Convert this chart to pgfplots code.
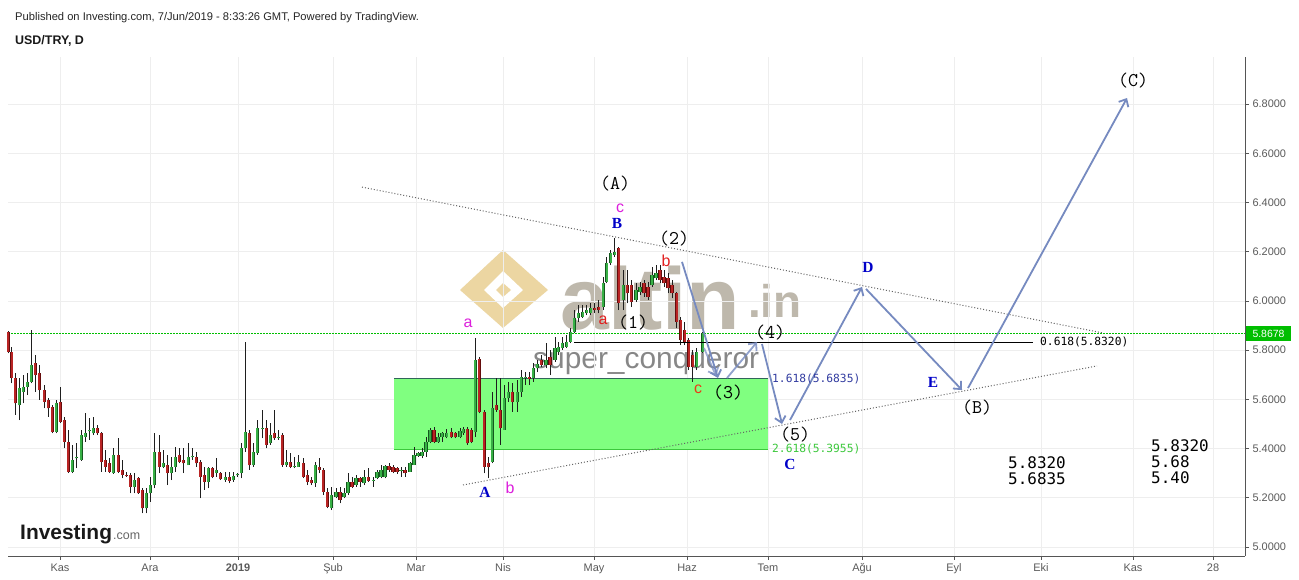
\documentclass[border=0pt]{standalone}
\usepackage{pgfplots}
\pgfplotsset{compat=1.18}
\usepackage{pgfplotstable}
\usepackage{fontspec}
\setmainfont{Liberation Sans}
\newfontfamily\sansmono{DejaVu Sans Mono}
\newfontfamily\timesf{Liberation Serif}
\usetikzlibrary{arrows.meta}

\definecolor{upc}{RGB}{56,176,70}
\definecolor{upedge}{RGB}{20,90,30}
\definecolor{dnc}{RGB}{185,36,36}
\definecolor{dnedge}{RGB}{100,12,12}
\definecolor{wick}{RGB}{30,30,30}
\definecolor{gridc}{RGB}{238,238,238}
\definecolor{axisc}{RGB}{85,85,85}
\definecolor{tickc}{RGB}{90,90,90}
\definecolor{arrowc}{RGB}{118,138,192}
\definecolor{zoneg}{RGB}{128,255,128}
\definecolor{zonetop}{RGB}{50,100,90}
\definecolor{wavebl}{RGB}{0,0,200}
\definecolor{wavemg}{RGB}{220,30,220}
\definecolor{wavered}{RGB}{225,30,30}
\definecolor{fibblue}{RGB}{50,60,160}
\definecolor{fibgreen}{RGB}{60,200,60}
\definecolor{pricegreen}{RGB}{0,190,0}
\definecolor{wmgray}{RGB}{190,184,172}
\definecolor{wmgold}{RGB}{236,214,162}
\definecolor{trend}{RGB}{100,100,100}

% daily candles, USD/TRY (x = chart position, o h l c)
\pgfplotstableread{
x o h l c
19.3 5.577 5.686 5.516 5.645
23.3 5.631 5.699 5.584 5.652
27.3 5.652 5.706 5.618 5.672
31.3 5.672 5.882 5.665 5.740
56.3 5.469 5.598 5.462 5.584
72.3 5.306 5.415 5.300 5.354
76.3 5.360 5.421 5.320 5.367
81.3 5.354 5.476 5.350 5.455
85.3 5.449 5.543 5.428 5.462
89.3 5.470 5.523 5.435 5.474
93.3 5.462 5.530 5.455 5.482
113.3 5.300 5.401 5.298 5.374
134.3 5.245 5.300 5.218 5.272
146.3 5.157 5.238 5.137 5.218
150.3 5.218 5.286 5.184 5.252
154.3 5.252 5.462 5.238 5.388
163.3 5.327 5.394 5.320 5.340
171.3 5.300 5.367 5.272 5.327
175.3 5.327 5.408 5.306 5.367
188.3 5.333 5.421 5.333 5.367
192.3 5.365 5.401 5.354 5.369
208.3 5.266 5.327 5.238 5.320
216.3 5.300 5.360 5.286 5.313
225.3 5.272 5.306 5.266 5.286
233.3 5.272 5.306 5.266 5.289
237.3 5.291 5.300 5.286 5.297
241.3 5.300 5.421 5.279 5.401
245.3 5.401 5.835 5.388 5.469
253.3 5.333 5.421 5.327 5.388
257.3 5.381 5.516 5.374 5.482
262.3 5.480 5.557 5.442 5.484
270.3 5.421 5.503 5.415 5.455
278.3 5.444 5.476 5.435 5.448
286.3 5.333 5.394 5.327 5.347
294.3 5.325 5.367 5.320 5.329
298.3 5.327 5.374 5.327 5.347
315.3 5.259 5.347 5.245 5.333
331.3 5.157 5.245 5.150 5.211
336.0 5.205 5.238 5.198 5.225
344.0 5.205 5.238 5.198 5.221
348.0 5.218 5.299 5.211 5.266
356.0 5.252 5.293 5.245 5.279
364.0 5.259 5.313 5.252 5.286
373.3 5.270 5.286 5.245 5.274
377.0 5.279 5.313 5.275 5.306
381.0 5.286 5.333 5.279 5.313
385.0 5.283 5.333 5.279 5.329
401.0 5.308 5.327 5.286 5.312
410.0 5.306 5.347 5.306 5.340
414.0 5.333 5.408 5.333 5.374
418.0 5.371 5.388 5.367 5.381
422.0 5.370 5.401 5.360 5.388
426.0 5.388 5.448 5.367 5.428
430.0 5.428 5.482 5.421 5.476
438.0 5.428 5.462 5.424 5.448
442.0 5.448 5.469 5.428 5.462
446.7 5.448 5.478 5.442 5.465
460.0 5.448 5.482 5.442 5.473
463.3 5.462 5.489 5.455 5.478
475.3 5.469 5.848 5.448 5.760
492.3 5.347 5.631 5.340 5.564
504.3 5.476 5.659 5.476 5.604
508.3 5.604 5.672 5.591 5.631
517.3 5.591 5.679 5.550 5.631
521.3 5.631 5.720 5.611 5.692
525.3 5.686 5.713 5.659 5.692
533.3 5.686 5.747 5.672 5.726
537.3 5.726 5.760 5.711 5.745
546.0 5.740 5.828 5.726 5.760
555.0 5.760 5.855 5.753 5.808
558.3 5.794 5.835 5.781 5.814
562.3 5.808 5.855 5.801 5.828
566.7 5.814 5.862 5.808 5.835
570.7 5.835 5.889 5.828 5.875
574.3 5.875 5.963 5.869 5.930
578.3 5.930 5.984 5.916 5.950
582.7 5.936 5.984 5.930 5.957
586.7 5.950 5.984 5.943 5.963
590.7 5.950 5.991 5.943 5.970
603.3 5.977 6.099 5.963 6.072
606.7 6.079 6.180 6.072 6.153
610.7 6.153 6.207 6.146 6.194
614.7 6.187 6.255 6.180 6.201
623.3 6.004 6.126 5.963 6.065
636.0 6.004 6.072 5.997 6.045
640.0 6.038 6.079 6.024 6.058
652.0 6.065 6.140 6.058 6.106
656.0 6.092 6.146 6.085 6.112
696.7 5.733 5.808 5.719 5.794
702.7 5.794 5.875 5.787 5.868
}\upcandles

\pgfplotstableread{
x o h l c
8.3 5.875 5.878 5.787 5.794
11.7 5.794 5.814 5.665 5.686
15.3 5.686 5.706 5.537 5.584
35.3 5.747 5.780 5.631 5.699
39.3 5.706 5.740 5.598 5.638
44.3 5.638 5.659 5.564 5.591
48.3 5.598 5.604 5.530 5.564
52.3 5.570 5.577 5.462 5.469
60.3 5.591 5.652 5.503 5.510
64.3 5.516 5.530 5.401 5.428
68.3 5.428 5.476 5.300 5.306
97.3 5.482 5.496 5.455 5.462
101.3 5.462 5.469 5.306 5.347
105.3 5.354 5.394 5.306 5.327
109.3 5.340 5.360 5.300 5.306
118.3 5.374 5.442 5.300 5.306
122.3 5.313 5.354 5.279 5.293
126.3 5.292 5.306 5.286 5.288
130.3 5.293 5.300 5.218 5.245
138.3 5.279 5.286 5.216 5.218
142.3 5.232 5.238 5.137 5.157
159.3 5.388 5.455 5.300 5.327
167.3 5.333 5.374 5.252 5.300
179.3 5.374 5.401 5.340 5.347
183.3 5.354 5.401 5.300 5.340
196.3 5.367 5.388 5.327 5.340
200.3 5.347 5.354 5.198 5.286
204.3 5.293 5.327 5.232 5.266
212.3 5.320 5.327 5.279 5.286
220.3 5.300 5.306 5.272 5.275
229.3 5.286 5.306 5.259 5.270
249.3 5.462 5.476 5.313 5.333
266.3 5.482 5.516 5.401 5.415
274.3 5.462 5.557 5.435 5.442
282.3 5.455 5.462 5.327 5.333
290.3 5.347 5.381 5.320 5.327
303.3 5.340 5.360 5.279 5.286
307.3 5.293 5.313 5.252 5.266
311.3 5.272 5.286 5.252 5.259
319.3 5.327 5.360 5.299 5.313
323.3 5.313 5.320 5.211 5.225
327.3 5.225 5.238 5.157 5.164
340.0 5.225 5.245 5.177 5.191
352.0 5.266 5.286 5.238 5.245
360.0 5.282 5.286 5.245 5.266
368.3 5.286 5.320 5.266 5.270
389.0 5.329 5.340 5.306 5.313
393.0 5.324 5.333 5.299 5.306
397.0 5.320 5.327 5.297 5.306
405.0 5.313 5.327 5.286 5.299
434.0 5.476 5.489 5.421 5.428
451.3 5.469 5.482 5.442 5.446
455.3 5.465 5.469 5.442 5.446
467.3 5.481 5.489 5.415 5.421
471.3 5.476 5.482 5.421 5.428
479.3 5.763 5.774 5.543 5.550
484.3 5.550 5.557 5.299 5.327
488.3 5.340 5.367 5.279 5.327
496.3 5.577 5.686 5.550 5.557
500.3 5.557 5.686 5.415 5.482
512.3 5.631 5.665 5.550 5.591
529.3 5.692 5.713 5.659 5.682
541.3 5.760 5.780 5.730 5.740
550.0 5.774 5.801 5.699 5.740
594.7 5.970 5.991 5.950 5.963
598.7 5.977 6.004 5.950 5.963
618.7 6.214 6.220 5.963 5.990
627.3 6.065 6.126 5.990 6.031
631.3 6.065 6.085 5.977 5.997
644.0 6.072 6.085 6.018 6.031
648.0 6.058 6.079 6.004 6.018
660.0 6.126 6.146 6.072 6.085
664.0 6.099 6.126 6.058 6.072
668.0 6.092 6.112 6.031 6.051
672.0 6.065 6.085 6.011 6.031
676.7 6.031 6.038 5.889 5.916
680.7 5.923 5.936 5.821 5.841
684.7 5.882 5.916 5.821 5.835
688.7 5.841 5.848 5.719 5.733
692.7 5.780 5.801 5.672 5.733
}\downcandles

\begin{document}
\begin{tikzpicture}
\path[use as bounding box, fill=white] (0,0) rectangle (1299bp,580bp);

% header
\node[anchor=base west, inner sep=0, font=\fontsize{11.2}{13}\selectfont, text=black!85] at (15bp,559bp)
  {Published on Investing.com, 7/Jun/2019 - 8:33:26 GMT, Powered by TradingView.};
\node[anchor=base west, inner sep=0, font=\fontsize{12.5}{14}\selectfont\bfseries, text=black!90] at (15bp,535bp)
  {USD/TRY, D};

% watermark
\fill[wmgold] (460bp,290bp) -- (503bp,330bp) -- (548bp,290bp) -- (503bp,252bp) -- cycle;
\fill[white] (484bp,290bp) -- (503bp,309bp) -- (523bp,290bp) -- (503bp,272bp) -- cycle;
\fill[wmgold] (496bp,290bp) -- (503bp,297bp) -- (511bp,290bp) -- (503bp,283bp) -- cycle;
\node[anchor=base west, inner sep=0, text=wmgray, font=\fontsize{88}{88}\selectfont\bfseries] at (560bp,250bp) {altin};
\node[anchor=base west, inner sep=0, text=wmgray, font=\fontsize{46}{46}\selectfont\bfseries] at (748bp,262bp) {.in};
\node[anchor=base west, inner sep=0, text=black!55, opacity=0.85, font=\fontsize{30}{30}\selectfont] at (533bp,211bp) {super\_conqueror};

\begin{axis}[
  at={(8bp,24bp)}, anchor=south west,
  width=1237bp, height=499bp, scale only axis,
  xmin=8, xmax=1245, ymin=4.9634, ymax=6.9919,
  axis x line=bottom, axis y line=right,
  axis line style={-, axisc, line width=1bp},
  xtick={60,150,238,333,416,503,594,687,768,862,954,1041,1133,1213},
  xticklabels={Kas,Ara,\textbf{2019},Şub,Mar,Nis,May,Haz,Tem,Ağu,Eyl,Eki,Kas,28},
  ytick={5.0,5.2,5.4,5.6,5.8,6.0,6.2,6.4,6.6,6.8},
  /pgf/number format/assume math mode=true,
  yticklabel style={/pgf/number format/fixed, /pgf/number format/fixed zerofill, /pgf/number format/precision=4},
  ticklabel style={font=\fontsize{11}{12}\selectfont, text=tickc},
  tick style={axisc, line width=0.8bp},
  tick align=outside, major tick length=4bp,
  grid=major, grid style={gridc, line width=0.8bp},
  clip=false,
]

% fibonacci zone
\fill[zoneg] (394,5.3955) rectangle (768,5.6835);
\draw[zonetop, line width=1bp] (394,5.6835) -- (768,5.6835);
\draw[fibgreen, line width=1bp] (394,5.3955) -- (768,5.3955);

% triangle
\draw[trend, line width=1bp, dash pattern=on 1bp off 2bp] (362,6.463) -- (1103,5.870);
\draw[trend, line width=1bp, dash pattern=on 1bp off 2bp] (463,5.252) -- (1097,5.736);

% current price
\draw[pricegreen, line width=0.8bp, dash pattern=on 1.5bp off 1.5bp] (8,5.8678) -- (1245,5.8678);

% candles: wicks, body edges, body fills
\addplot[draw=none, mark=none, forget plot, error bars/.cd, y dir=plus, y explicit, error mark=none,
  error bar style={draw=wick, line width=1bp}]
  table[x=x, y=l, y error plus expr=\thisrow{h}-\thisrow{l}] {\upcandles};
\addplot[draw=none, mark=none, forget plot, error bars/.cd, y dir=plus, y explicit, error mark=none,
  error bar style={draw=wick, line width=1bp}]
  table[x=x, y=l, y error plus expr=\thisrow{h}-\thisrow{l}] {\downcandles};
\addplot[draw=none, mark=none, forget plot, error bars/.cd, y dir=plus, y explicit, error mark=none,
  error bar style={draw=upedge, line width=3.4bp}]
  table[x=x, y=o, y error plus expr=\thisrow{c}-\thisrow{o}] {\upcandles};
\addplot[draw=none, mark=none, forget plot, error bars/.cd, y dir=plus, y explicit, error mark=none,
  error bar style={draw=dnedge, line width=3.4bp}]
  table[x=x, y=c, y error plus expr=\thisrow{o}-\thisrow{c}] {\downcandles};
\addplot[draw=none, mark=none, forget plot, error bars/.cd, y dir=plus, y explicit, error mark=none,
  error bar style={draw=upc, line width=2bp}]
  table[x=x, y=o, y error plus expr=\thisrow{c}-\thisrow{o}] {\upcandles};
\addplot[draw=none, mark=none, forget plot, error bars/.cd, y dir=plus, y explicit, error mark=none,
  error bar style={draw=dnc, line width=2bp}]
  table[x=x, y=c, y error plus expr=\thisrow{o}-\thisrow{c}] {\downcandles};

% 0.618 level
\draw[black, line width=0.8bp] (574,5.832) -- (1033,5.832);

% projected path
\begin{scope}[arrowc, line width=1.8bp, -{Straight Barb[length=6bp,width=11bp]}]
\draw (682,6.159) -- (718,5.687);
\draw[opacity=0.7] (704,5.809) -- (716,5.695);
\draw[opacity=0.8] (727,5.687) -- (757,5.833);
\draw (762,5.825) -- (782,5.500);
\draw (790,5.516) -- (862,6.057);
\draw (866,6.049) -- (962,5.638);
\draw (968,5.646) -- (1127,6.825);
\end{scope}

% wave labels
\begin{scope}[every node/.style={font=\ttfamily\addfontfeature{FakeBold=1.5}\fontsize{19.5}{19.5}\selectfont, text=black, inner sep=0}]
\node at (615,6.4756) {(A)};
\node at (674,6.252) {(2)};
\node at (633,5.911) {(1)};
\node at (770,5.870) {(4)};
\node at (728,5.626) {(3)};
\node at (795,5.459) {(5)};
\node at (977,5.565) {(B)};
\node at (1133,6.898) {(C)};
\end{scope}
\begin{scope}[every node/.style={font=\timesf\bfseries\fontsize{15.5}{15.5}\selectfont, text=wavebl, inner sep=0}]
\node at (617,6.317) {B};
\node at (790,5.337) {C};
\node at (485,5.220) {A};
\node at (868,6.138) {D};
\node at (933,5.667) {E};
\end{scope}
\begin{scope}[every node/.style={font=\fontsize{16}{16}\selectfont, inner sep=0}]
\node[text=wavemg] at (620,6.378) {c};
\node[text=wavered] at (666,6.163) {b};
\node[text=wavered] at (603,5.923) {a};
\node[text=wavemg] at (468,5.911) {a};
\node[text=wavered!70!orange] at (698,5.642) {c};
\node[text=wavemg] at (510,5.240) {b};
\end{scope}

% fibonacci texts
\begin{scope}[every node/.style={font=\sansmono\fontsize{11.3}{12}\selectfont, anchor=west, inner sep=0}]
\node[text=fibblue] at (772,5.683) {1.618(5.6835)};
\node[text=fibgreen] at (772,5.398) {2.618(5.3955)};
\node[text=black] at (1040,5.833) {0.618(5.8320)};
\end{scope}
\begin{scope}[every node/.style={font=\sansmono\fontsize{16}{16}\selectfont, anchor=west, inner sep=0, text=black}]
\node at (1008,5.341) {5.8320};
\node at (1008,5.276) {5.6835};
\node at (1151,5.411) {5.8320};
\node at (1151,5.346) {5.68};
\node at (1151,5.280) {5.40};
\end{scope}
\end{axis}

% price tag
\fill[pricegreen] (1246bp,239bp) rectangle (1291bp,254bp);
\node[text=white, inner sep=0, font=\fontsize{10.5}{11}\selectfont] at (1268.5bp,246.5bp) {5.8678};

% investing.com logo
\node[anchor=base west, inner sep=0, font=\fontsize{21}{21}\selectfont\bfseries, text=black!90] at (20bp,40bp) {Investing};
\node[anchor=base west, inner sep=0, font=\fontsize{12.5}{13}\selectfont, text=black!60] at (113bp,40bp) {.com};
\end{tikzpicture}
\end{document}
